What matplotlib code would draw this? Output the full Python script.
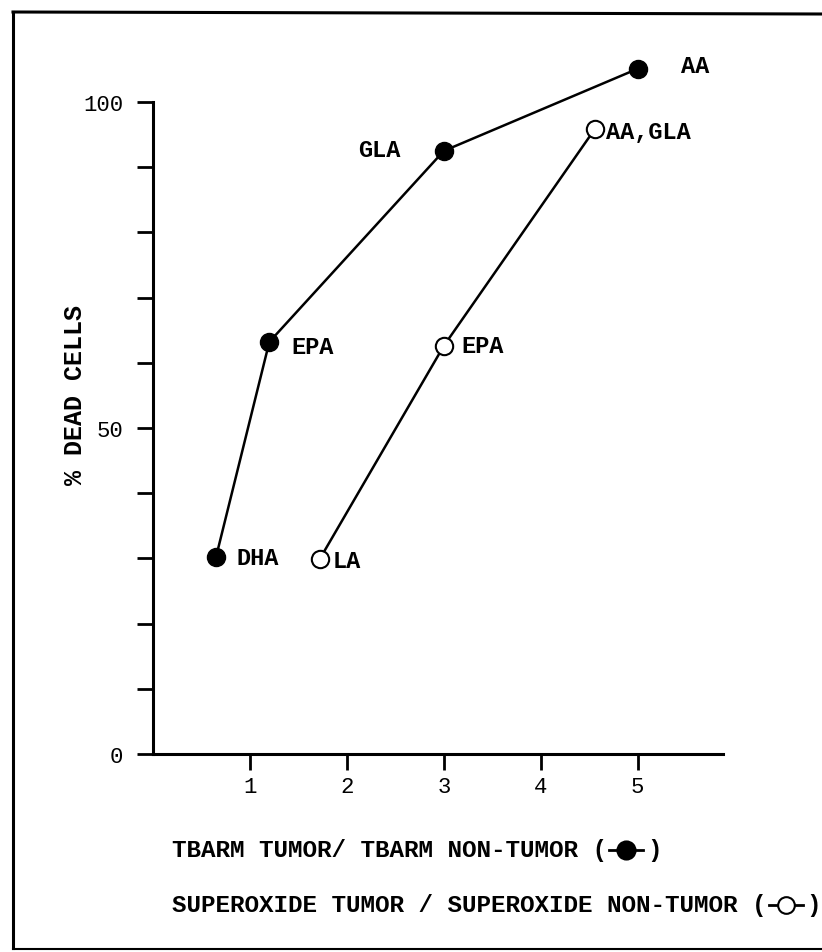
import matplotlib
matplotlib.use("Agg")
import matplotlib.pyplot as plt
from matplotlib.lines import Line2D

# ratio tumor / non-tumor vs % dead cells
tbarm_x = [0.65, 1.2, 3.0, 5.0]
tbarm_y = [30.2, 63.2, 92.5, 105.1]
tbarm_labels = ["DHA", "EPA", "GLA", "AA"]

sox_x = [1.72, 3.0, 4.56]
sox_y = [29.9, 62.6, 95.9]
sox_labels = ["LA", "EPA", "AA,GLA"]

xticks = [1, 2, 3, 4, 5]
yticks = [0, 10, 20, 30, 40, 50, 60, 70, 80, 90, 100]
ytick_labels = ["0", "", "", "", "", "50", "", "", "", "", "100"]

legend_text = ["TBARM TUMOR/ TBARM NON-TUMOR (", "SUPEROXIDE TUMOR / SUPEROXIDE NON-TUMOR ("]

plt.rcParams['font.family'] = ['Liberation Mono', 'DejaVu Sans Mono']
W, H = 822, 953
fig = plt.figure(figsize=(W / 100, H / 100), dpi=100)
ax = fig.add_axes([153 / W, (H - 755) / H, 570 / W, 652 / H])

ax.plot(tbarm_x, tbarm_y, color='black', lw=1.8, marker='o', ms=13,
        mfc='black', mec='black', clip_on=False, zorder=3)
ax.plot(sox_x, sox_y, color='black', lw=1.8, marker='o', ms=12.5,
        mfc='white', mec='black', mew=1.5, clip_on=False, zorder=3)

# point labels (offsets in points)
tb_off = [(15, 0, 'left'), (16, -3, 'left'), (-31, 1, 'right'), (31, 2, 'left')]
for x, y, t, (dx, dy, ha) in zip(tbarm_x, tbarm_y, tbarm_labels, tb_off):
    ax.annotate(t, (x, y), xytext=(dx, dy), textcoords='offset points',
                ha=ha, va='center', fontsize=17, fontweight='bold',
                annotation_clip=False)
sox_off = [(9, -1, 'left'), (13, 0, 'left'), (8, -2, 'left')]
for x, y, t, (dx, dy, ha) in zip(sox_x, sox_y, sox_labels, sox_off):
    ax.annotate(t, (x, y), xytext=(dx, dy), textcoords='offset points',
                ha=ha, va='center', fontsize=17, fontweight='bold',
                annotation_clip=False)

ax.set_xlim(0, 5.88)
ax.set_ylim(0, 100)
ax.set_xticks(xticks)
ax.set_yticks(yticks)
ax.set_yticklabels(ytick_labels)
ax.tick_params(axis='both', direction='out', length=11.5, width=2,
               labelsize=16, pad=4)
ax.tick_params(axis='y', pad=10)
for s in ['top', 'right']:
    ax.spines[s].set_visible(False)
for s in ['left', 'bottom']:
    ax.spines[s].set_linewidth(2.2)

fig.text(75 / W, 1 - 395 / H, "% DEAD CELLS", rotation=90, ha='center',
         va='center', fontsize=18, fontweight='bold')

# legend lines with inline symbols
fig.canvas.draw()
r = fig.canvas.get_renderer()
rows = [(851, 'black', 13), (906, 'white', 12)]
for txt, (yp, fc, ms) in zip(legend_text, rows):
    t = fig.text(172 / W, 1 - yp / H, txt, ha='left', va='center',
                 fontsize=17.5, fontweight='bold')
    bb = t.get_window_extent(r)
    x0 = bb.x1 + 2
    fig.add_artist(Line2D([x0 / W, (x0 + 17) / W, (x0 + 34) / W], [1 - yp / H] * 3,
                          color='black', lw=2, marker='o', markevery=[1], ms=ms,
                          mfc=fc, mec='black', mew=1.5))
    fig.text((x0 + 38) / W, 1 - yp / H, ")", ha='left', va='center',
             fontsize=17.5, fontweight='bold')

# scanned page frame
fig.add_artist(Line2D([13 / W, 13 / W], [0.004, 1 - 13 / H], color='black', lw=2.2))
fig.add_artist(Line2D([13 / W, 1.0], [1 - 13 / H, 1 - 15 / H], color='black', lw=2.2))
fig.add_artist(Line2D([13 / W, 1.0], [3 / H, 3 / H], color='black', lw=1.5))

fig.savefig("out.png", dpi=100)
